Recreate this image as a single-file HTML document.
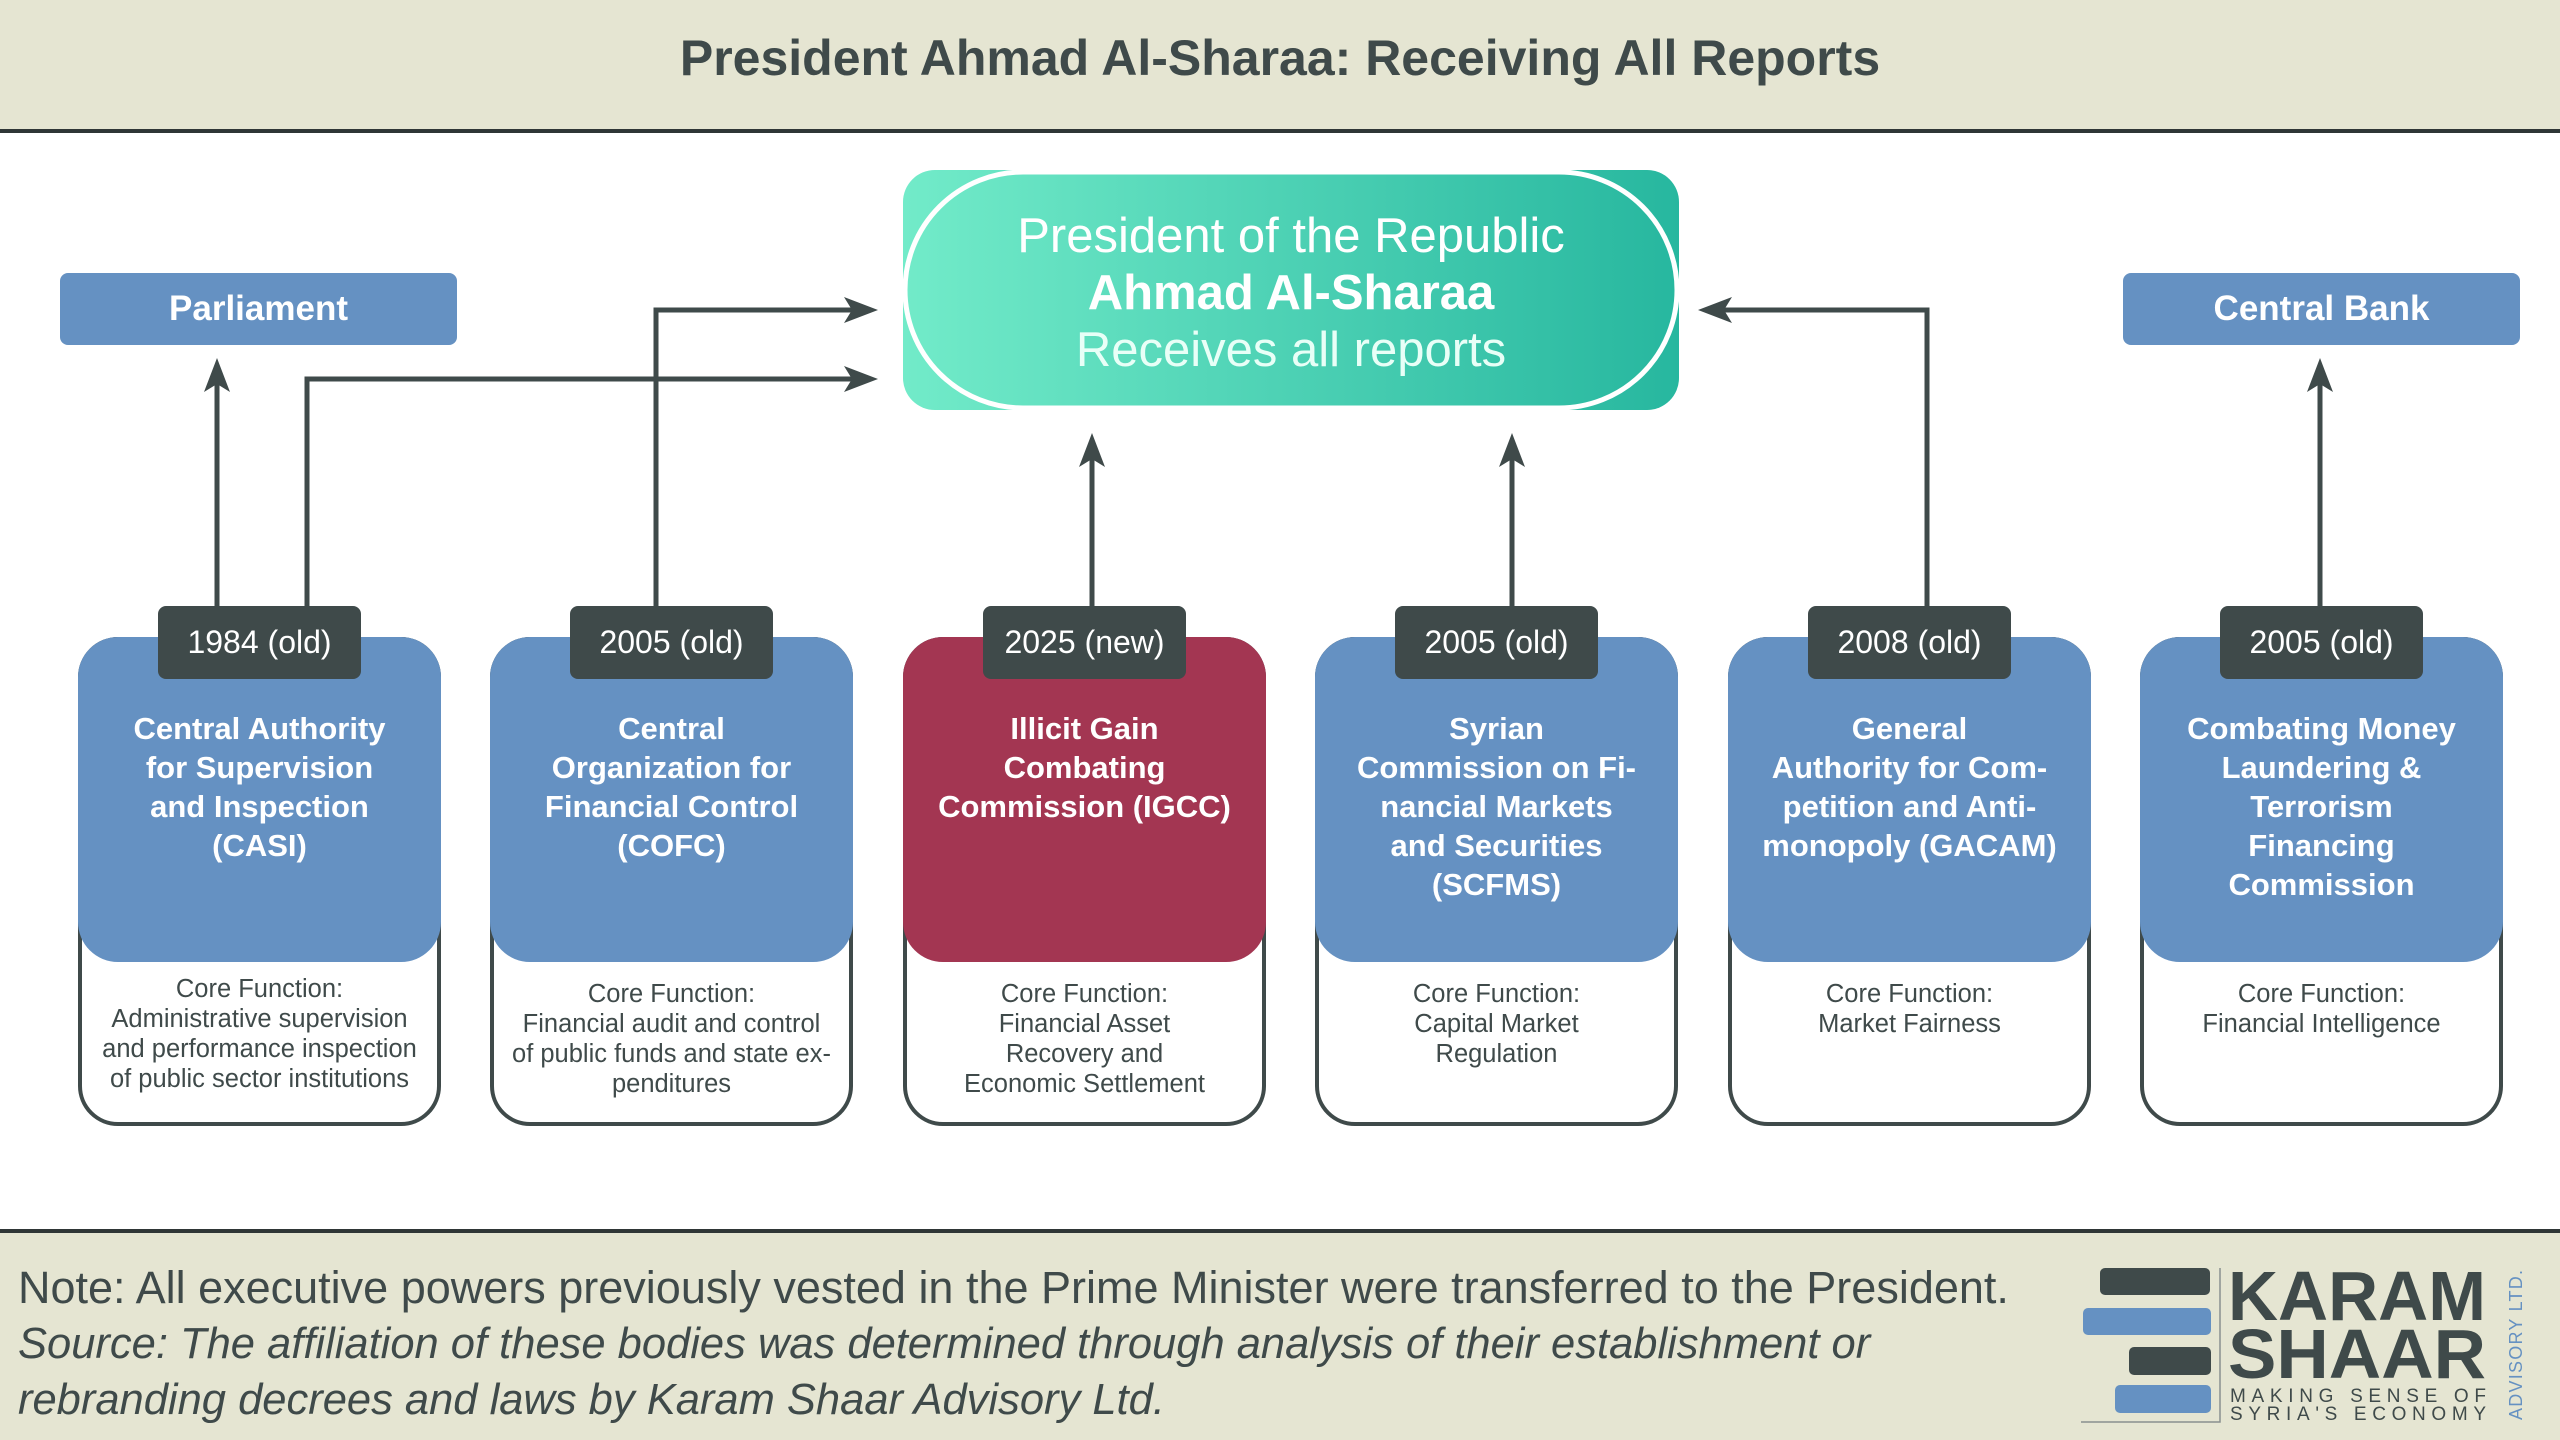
<!DOCTYPE html>
<html><head><meta charset="utf-8"><style>
*{margin:0;padding:0;box-sizing:border-box}
body{width:2560px;height:1440px;position:relative;background:#fff;font-family:"Liberation Sans",sans-serif;overflow:hidden;color:#3f4a4a}
.hdr{position:absolute;left:0;top:0;width:2560px;height:133px;background:#e5e5d2;border-bottom:4px solid #2f3636}
.hdr div{position:absolute;left:0;right:0;top:29px;text-align:center;font-weight:bold;font-size:50px;color:#3f4a4a}
.ftr{position:absolute;left:0;top:1229px;width:2560px;height:211px;background:#e5e5d2;border-top:4px solid #2f3636}
.note{position:absolute;left:18px;font-size:45px;color:#3f4a4a;white-space:nowrap}
.side{position:absolute;top:273px;width:397px;height:72px;background:#6591c2;border-radius:8px;color:#fff;font-weight:bold;font-size:35px;text-align:center;line-height:72px}
.card{position:absolute;top:637px;width:363px;height:489px;border:4px solid #3f4a4a;border-radius:40px;background:#fff}
.top{position:absolute;left:-4px;top:-4px;width:363px;height:325px;border-radius:40px;background:#6591c2;color:#fff;font-weight:bold;font-size:31px;line-height:39px;text-align:center;padding-top:72px;white-space:nowrap}
.yr{position:absolute;top:606px;width:203px;height:73px;background:#3f4a4a;border-radius:8px;color:#fff;font-size:32px;text-align:center;line-height:73px}
.cf{position:absolute;left:-4px;right:-4px;top:338px;text-align:center;font-size:25.5px;line-height:30px;color:#3f4a4a;white-space:nowrap}
</style></head><body>
<div class="hdr"><div>President Ahmad Al-Sharaa: Receiving All Reports</div></div>

<svg style="position:absolute;left:0;top:0" width="2560" height="1440">
<defs><linearGradient id="g" x1="0" x2="1" y1="0" y2="0"><stop offset="0" stop-color="#72ebc9"/><stop offset="1" stop-color="#27b79f"/></linearGradient></defs>
<rect x="903" y="170" width="776" height="240" rx="32" fill="url(#g)"/>
<rect x="905" y="172" width="772" height="236" rx="118" fill="none" stroke="#fff" stroke-width="5"/>
<g stroke="#3f4a4a" stroke-width="5" fill="none">
<path d="M217 606 V375"/>
<path d="M307 606 V379 H860"/>
<path d="M656 606 V310 H860"/>
<path d="M1092 606 V450"/>
<path d="M1512 606 V450"/>
<path d="M1927 606 V310 H1715"/>
<path d="M2320 606 V375"/>
</g>
<g fill="#3f4a4a">
<polygon points="217,358 204,392 217,384 230,392"/>
<polygon points="2320,358 2307,392 2320,384 2333,392"/>
<polygon points="1092,433 1079,467 1092,459 1105,467"/>
<polygon points="1512,433 1499,467 1512,459 1525,467"/>
<polygon points="878,379 844,366 852,379 844,392"/>
<polygon points="878,310 844,297 852,310 844,323"/>
<polygon points="1698,310 1732,297 1724,310 1732,323"/>
</g>
</svg>
<div style="position:absolute;left:903px;top:208px;width:776px;text-align:center;color:#fff;font-size:49px;line-height:57px;white-space:nowrap">President of the Republic<br><b>Ahmad Al-Sharaa</b><br><span style="color:#e8fff7">Receives all reports</span></div>

<div class="side" style="left:60px">Parliament</div>
<div class="side" style="left:2123px">Central Bank</div>

<div class="card" style="left:78px"><div class="top">Central Authority<br>for Supervision<br>and Inspection<br>(CASI)</div><div class="cf" style="top:333px">Core Function:<br>Administrative supervision<br>and performance inspection<br>of public sector institutions</div></div>
<div class="card" style="left:490px"><div class="top">Central<br>Organization for<br>Financial Control<br>(COFC)</div><div class="cf">Core Function:<br>Financial audit and control<br>of public funds and state ex-<br>penditures</div></div>
<div class="card" style="left:903px"><div class="top" style="background:#a33652">Illicit Gain<br>Combating<br>Commission (IGCC)</div><div class="cf">Core Function:<br>Financial Asset<br>Recovery and<br>Economic Settlement</div></div>
<div class="card" style="left:1315px"><div class="top">Syrian<br>Commission on Fi-<br>nancial Markets<br>and Securities<br>(SCFMS)</div><div class="cf">Core Function:<br>Capital Market<br>Regulation</div></div>
<div class="card" style="left:1728px"><div class="top">General<br>Authority for Com-<br>petition and Anti-<br>monopoly (GACAM)</div><div class="cf">Core Function:<br>Market Fairness</div></div>
<div class="card" style="left:2140px"><div class="top">Combating Money<br>Laundering &amp;<br>Terrorism<br>Financing<br>Commission</div><div class="cf">Core Function:<br>Financial Intelligence</div></div>

<div class="yr" style="left:158px">1984 (old)</div>
<div class="yr" style="left:570px">2005 (old)</div>
<div class="yr" style="left:983px">2025 (new)</div>
<div class="yr" style="left:1395px">2005 (old)</div>
<div class="yr" style="left:1808px">2008 (old)</div>
<div class="yr" style="left:2220px">2005 (old)</div>

<div class="ftr"></div>
<div class="note" style="top:1262px">Note: All executive powers previously vested in the Prime Minister were transferred to the President.</div>
<div class="note" style="top:1320px;font-style:italic;font-size:43.5px">Source: The affiliation of these bodies was determined through analysis of their establishment or</div>
<div class="note" style="top:1376px;font-style:italic;font-size:43.5px">rebranding decrees and laws by Karam Shaar Advisory Ltd.</div>

<svg style="position:absolute;left:2070px;top:1260px" width="480" height="175">
<rect x="30" y="8" width="110" height="27" rx="5" fill="#3f4a4a"/>
<rect x="13" y="48" width="128" height="27" rx="5" fill="#6591c2"/>
<rect x="59" y="87" width="82" height="28" rx="5" fill="#3f4a4a"/>
<rect x="45" y="125" width="96" height="28" rx="5" fill="#6591c2"/>
<path d="M150 8 V162 H11" stroke="#8a9090" stroke-width="1.5" fill="none"/>
<text x="158" y="60" font-family="Liberation Sans" font-weight="bold" font-size="70" fill="#3f4a4a" textLength="258" lengthAdjust="spacingAndGlyphs">KARAM</text>
<text x="158" y="118" font-family="Liberation Sans" font-weight="bold" font-size="70" fill="#3f4a4a" textLength="258" lengthAdjust="spacingAndGlyphs">SHAAR</text>
<text x="160" y="142" font-family="Liberation Sans" font-size="19" fill="#3f4a4a" textLength="256" lengthAdjust="spacing">MAKING SENSE OF</text>
<text x="160" y="160" font-family="Liberation Sans" font-size="19" fill="#3f4a4a" textLength="256" lengthAdjust="spacing">SYRIA'S ECONOMY</text>
<text transform="translate(452,160) rotate(-90)" font-family="Liberation Sans" font-size="18" fill="#6591c2" textLength="150" lengthAdjust="spacing">ADVISORY LTD.</text>
</svg>
</body></html>
